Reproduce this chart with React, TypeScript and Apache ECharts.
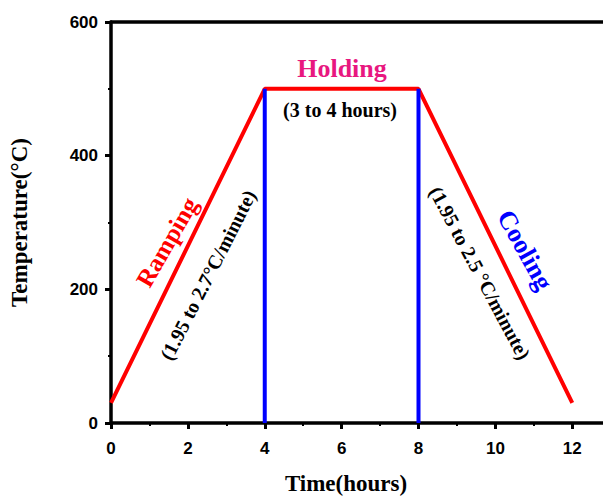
import React, { useEffect, useRef } from "react";
import * as echarts from "echarts";

const profileTime = [0, 4, 8, 12];
const profileTemp = [30, 500, 500, 30];
const holdStartLine = [[4, 0], [4, 500]];
const holdEndLine = [[8, 0], [8, 500]];
const xTicks = [0, 2, 4, 6, 8, 10, 12];
const xMinorTicks = [1, 3, 5, 7, 9, 11];
const yTicks = [0, 200, 400, 600];

const serif = "Liberation Serif";
const sans = "Liberation Sans";

export default function App() {
  const ref = useRef<HTMLDivElement>(null);
  useEffect(() => {
    if (!ref.current) return;
    const chart = echarts.init(ref.current, null, { renderer: "svg" });
    const deg = Math.PI / 180;
    const xMax = 12.8;
    chart.setOption({
      animation: false,
      backgroundColor: "#ffffff",
      grid: { left: 111, top: 22, right: 0, bottom: 74, outerBoundsMode: "none", containLabel: false },
      xAxis: [
        {
          type: "value",
          position: "bottom",
          min: 0,
          max: xMax,
          name: "Time(hours)",
          nameLocation: "middle",
          nameGap: 48,
          nameTextStyle: { fontFamily: serif, fontWeight: "bold", fontSize: 23, lineHeight: 24, color: "#000", padding: [0, 22, 0, 0] },
          axisLine: { show: true, onZero: false, lineStyle: { color: "#000", width: 3.5 } },
          axisTick: { show: true, length: 6, customValues: xTicks, lineStyle: { width: 3, color: "#000" } },
          axisLabel: {
            margin: 17,
            customValues: xTicks,
            fontFamily: sans,
            fontWeight: "bold",
            fontSize: 17,
            color: "#000",
          },
          splitLine: { show: false },
        },
        {
          type: "value",
          position: "bottom",
          min: 0,
          max: xMax,
          axisLine: { show: false },
          axisTick: { show: true, length: 3, customValues: xMinorTicks, lineStyle: { width: 2, color: "#000" } },
          axisLabel: { show: false },
          splitLine: { show: false },
        },
        {
          type: "value",
          position: "top",
          min: 0,
          max: xMax,
          axisLine: { show: true, onZero: false, lineStyle: { color: "#000", width: 3.5 } },
          axisTick: { show: false },
          axisLabel: { show: false },
          splitLine: { show: false },
        },
      ],
      yAxis: {
        type: "value",
        min: 0,
        max: 600,
        interval: 200,
        name: "Temperature(°C)",
        nameLocation: "middle",
        nameGap: 80,
        nameTextStyle: { fontFamily: serif, fontWeight: "bold", fontSize: 23, color: "#000" },
        axisLine: { show: true, onZero: false, lineStyle: { color: "#000", width: 3.5 } },
        axisTick: { show: true, length: 6, lineStyle: { width: 3, color: "#000" } },
        minorTick: { show: true, splitNumber: 2, length: 3, lineStyle: { width: 2, color: "#000" } },
        axisLabel: {
          margin: 13,
          fontFamily: sans,
          fontWeight: "bold",
          fontSize: 17,
          color: "#000",
          formatter: (v: number) => (yTicks.indexOf(v) >= 0 ? String(v) : ""),
        },
        splitLine: { show: false },
      },
      series: [
        {
          type: "line",
          data: profileTime.map((t, i) => [t, profileTemp[i]]),
          symbol: "none",
          lineStyle: { color: "#ff0000", width: 4 },
          z: 2,
        },
        {
          type: "line",
          data: holdStartLine,
          symbol: "none",
          lineStyle: { color: "#0000ff", width: 4 },
          z: 3,
        },
        {
          type: "line",
          data: holdEndLine,
          symbol: "none",
          lineStyle: { color: "#0000ff", width: 4 },
          z: 3,
        },
      ],
      graphic: [
        {
          type: "text",
          x: 342,
          y: 68,
          style: { text: "Holding", fontFamily: serif, fontWeight: "bold", fontSize: 26, fill: "#e8177f", textAlign: "center", textVerticalAlign: "middle" },
        },
        {
          type: "text",
          x: 340,
          y: 110,
          style: { text: "(3 to 4 hours)", fontFamily: serif, fontWeight: "bold", fontSize: 20, fill: "#000", textAlign: "center", textVerticalAlign: "middle" },
        },
        {
          type: "text",
          x: 167,
          y: 242,
          rotation: 60 * deg,
          style: { text: "Ramping", fontFamily: serif, fontWeight: "bold", fontSize: 25, fill: "#ff0000", textAlign: "center", textVerticalAlign: "middle" },
        },
        {
          type: "text",
          x: 208,
          y: 275,
          rotation: 63 * deg,
          style: { text: "(1.95 to 2.7°C/minute)", fontFamily: serif, fontWeight: "bold", fontSize: 20, fill: "#000", textAlign: "center", textVerticalAlign: "middle" },
        },
        {
          type: "text",
          x: 525,
          y: 250,
          rotation: -61 * deg,
          style: { text: "Cooling", fontFamily: serif, fontWeight: "bold", fontSize: 26, fill: "#0000ff", textAlign: "center", textVerticalAlign: "middle" },
        },
        {
          type: "text",
          x: 480,
          y: 273,
          rotation: -62 * deg,
          style: { text: "(1.95 to 2.5 °C/minute)", fontFamily: serif, fontWeight: "bold", fontSize: 20, fill: "#000", textAlign: "center", textVerticalAlign: "middle" },
        },
      ],
    });
    return () => chart.dispose();
  }, []);
  return <div ref={ref} style={{ position: "fixed", left: 0, top: 0, width: 603, height: 497 }} />;
}
